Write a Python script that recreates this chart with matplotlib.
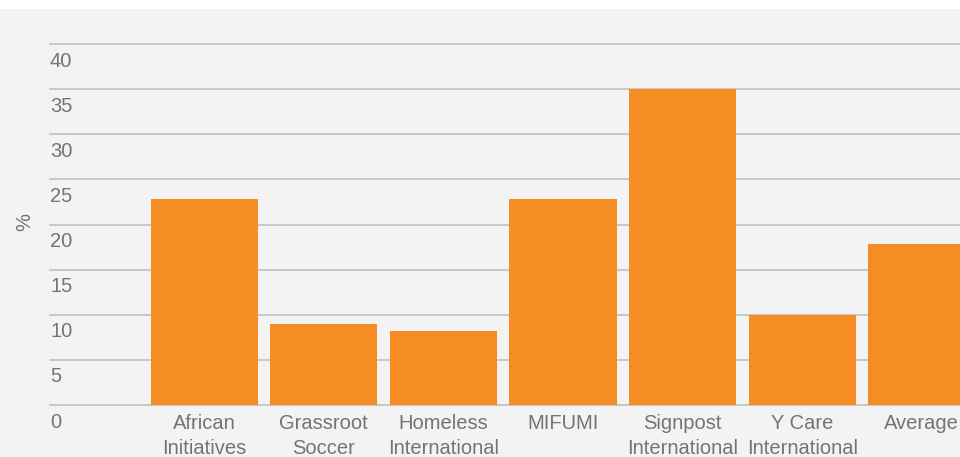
import matplotlib.pyplot as plt
from matplotlib.transforms import ScaledTranslation
from matplotlib.patches import Rectangle

# data
categories = ['African\nInitiatives', 'Grassroot\nSoccer', 'Homeless\nInternational',
              'MIFUMI', 'Signpost\nInternational', 'Y Care\nInternational', 'Average']
values = [22.8, 9.0, 8.2, 22.8, 35.0, 10.0, 17.8]
yticks = [0, 5, 10, 15, 20, 25, 30, 35, 40]

bg = '#f3f3f3'
bar_color = '#f68c24'
grid_color = '#bcbcbc'
text_color = '#747474'

plt.rcParams['font.family'] = ['Liberation Sans', 'DejaVu Sans']

fig = plt.figure(figsize=(9.6, 4.57), dpi=100, facecolor=bg)
# white strip at the top
fig.patches.append(Rectangle((0, 1 - 9 / 457), 1, 9 / 457, transform=fig.transFigure,
                             facecolor='white', edgecolor='none', zorder=0))

ax = fig.add_axes([50 / 960, 1 - 405 / 457, 910 / 960, 361 / 457])
ax.set_facecolor(bg)
ax.set_xlim(-1.29, 6.32)
ax.set_ylim(0, 40)

x = list(range(len(categories)))
ax.bar(x, values, width=0.895, color=bar_color, zorder=3)

# gridlines
for t in yticks:
    ax.axhline(t, color=grid_color, linewidth=1.1, zorder=1, clip_on=False)

for s in ax.spines.values():
    s.set_visible(False)

ax.set_yticks([])
offset = ScaledTranslation(0, -17 / 100, fig.dpi_scale_trans)
for t in yticks:
    ax.text(0, t, str(t), transform=ax.get_yaxis_transform() + offset,
            ha='left', va='center', fontsize=14.5, color=text_color)

ax.set_xticks(x)
ax.set_xticklabels(categories, fontsize=14.5, color=text_color, linespacing=1.38)
ax.tick_params(axis='x', length=0, pad=6.5)

fig.text(25 / 960, 1 - 222 / 457, '%', rotation=90, ha='center', va='center',
         fontsize=14.5, color=text_color)

fig.savefig('out.png', dpi=100, facecolor=fig.get_facecolor())
